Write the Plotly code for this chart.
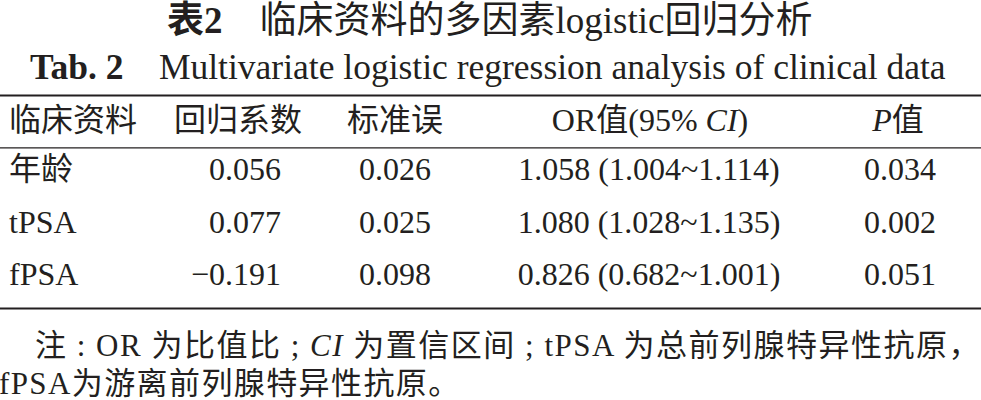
import plotly.graph_objects as go

# table content
header = ["临床资料", "回归系数", "标准误", "OR值(95% <i>CI</i>)", "<i>P</i>值"]
variables = ["年龄", "tPSA", "fPSA"]
coef = ["0.056", "0.077", "−0.191"]
std_err = ["0.026", "0.025", "0.098"]
or_ci = ["1.058 (1.004~1.114)", "1.080 (1.028~1.135)", "0.826 (0.682~1.001)"]
p_value = ["0.034", "0.002", "0.051"]

title_cn = "<b>表2</b>　临床资料的多因素logistic回归分析"
title_en = "<b>Tab. 2</b>　Multivariate logistic regression analysis of clinical data"
note_1 = ('<span style="letter-spacing:1.5px">注 : OR 为比值比 ; <i>CI</i> 为置信区间 ; '
          'tPSA 为总前列腺特异性抗原，</span>')
note_2 = '<span style="letter-spacing:1.4px">fPSA为游离前列腺特异性抗原。</span>'

FONT = "Liberation Serif, Noto Sans CJK SC"
INK = "#231f20"
W, H = 981, 400

# layout (pixel units on the axes)
header_y = 123
row_y0, row_step = 172, 52.5
row_y = [row_y0 + i * row_step for i in range(len(variables))]

columns = [
    # (values, x anchor, header x, text position)
    (variables, 9, 9, "middle right"),
    (coef, 281, 238, "middle left"),
    (std_err, 395, 395, "middle center"),
    (or_ci, 649, 650, "middle center"),
    (p_value, 900, 898, "middle center"),
]

fig = go.Figure()

for i, (vals, x, hx, pos) in enumerate(columns):
    hpos = "middle right" if i == 0 else "middle center"
    fig.add_trace(go.Scatter(
        x=[hx], y=[header_y], text=[header[i]], mode="text",
        textposition=hpos, textfont=dict(family=FONT, size=32, color=INK),
        hoverinfo="skip", showlegend=False))
    fig.add_trace(go.Scatter(
        x=[x] * len(vals), y=row_y, text=vals, mode="text",
        textposition=pos, textfont=dict(family=FONT, size=32, color=INK),
        hoverinfo="skip", showlegend=False))

# three-line table rules
rules = [(95.5, 2.2), (147.8, 1.3), (308.5, 2.2)]
for y, w in rules:
    fig.add_shape(type="line", xref="x", yref="y", x0=0, x1=W, y0=y, y1=y,
                  line=dict(color=INK, width=w))

fig.add_annotation(x=489, y=20, text=title_cn, showarrow=False, xanchor="center",
                   font=dict(family=FONT, size=37, color=INK))
fig.add_annotation(x=488, y=67, text=title_en, showarrow=False, xanchor="center",
                   font=dict(family=FONT, size=35.5, color=INK))
fig.add_annotation(x=33, y=345, text=note_1, showarrow=False, xanchor="left",
                   font=dict(family=FONT, size=31, color=INK))
fig.add_annotation(x=0, y=383, xshift=-3, text=note_2, showarrow=False, xanchor="left",
                   font=dict(family=FONT, size=31, color=INK))

fig.update_xaxes(range=[0, W], visible=False, fixedrange=True)
fig.update_yaxes(range=[H, 0], visible=False, fixedrange=True)
fig.update_layout(
    width=W, height=H,
    margin=dict(l=0, r=0, t=0, b=0),
    paper_bgcolor="white", plot_bgcolor="white",
)

fig.write_html("out.html", config={"displayModeBar": False},
               post_script="document.body.style.margin='0';")
